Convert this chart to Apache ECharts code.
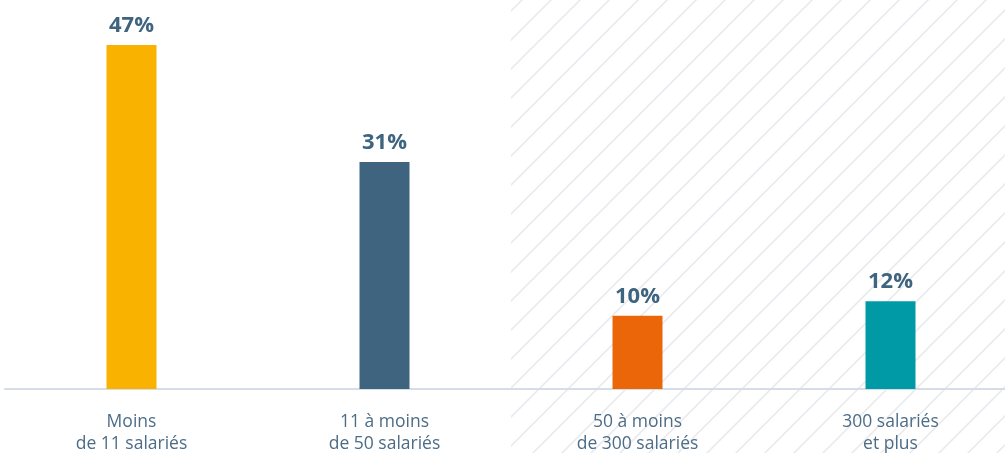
<!DOCTYPE html>
<html>
<head>
<meta charset="utf-8">
<script src="https://cdn.jsdelivr.net/npm/echarts@6/dist/echarts.min.js"></script>
<style>
  html, body { margin: 0; padding: 0; background: #fff; }
  #chart { width: 1005px; height: 453px; }
</style>
</head>
<body>
<div id="chart"></div>
<script>
const categories = ['Moins\nde 11 salariés', '11 à moins\nde 50 salariés', '50 à moins\nde 300 salariés', '300 salariés\net plus'];
const values = [47, 31, 10, 12];
const colors = ['#f9b200', '#3e6480', '#eb6608', '#009aa6'];
// hatched zone starts at this category
const hatchFrom = 2;

const makeHatch = () => {
    const s = 29;
    const c = document.createElement('canvas');
    c.width = s; c.height = s;
    const ctx = c.getContext('2d');
    ctx.strokeStyle = '#e9ebef';
    ctx.lineWidth = 1.6;
    ctx.beginPath();
    ctx.moveTo(-2, s + 2); ctx.lineTo(s + 2, -2);
    ctx.moveTo(-2, 2); ctx.lineTo(2, -2);
    ctx.moveTo(s - 2, s + 2); ctx.lineTo(s + 2, s - 2);
    ctx.stroke();
    return c;
};

const chart = echarts.init(document.getElementById('chart'));
const option = {
    animation: false,
    grid: { left: 5, width: 1012, top: 23, bottom: 64, outerBoundsMode: 'none', containLabel: false },
    xAxis: {
        type: 'category',
        data: categories,
        axisLine: { lineStyle: { color: '#d6dde6', width: 2 } },
        axisTick: { show: false },
        axisLabel: {
            color: '#4d6c86',
            fontFamily: 'Open Sans',
            fontSize: 17.5,
            lineHeight: 22,
            margin: 22
        }
    },
    yAxis: { type: 'value', min: 0, max: 50, show: false, splitLine: { show: false } },
    series: [{
        type: 'bar',
        barWidth: 50,
        data: values.map((v, i) => ({ value: v, itemStyle: { color: colors[i] } })),
        label: {
            show: true,
            position: 'top',
            distance: 8,
            formatter: '{c}%',
            color: '#3e6480',
            fontFamily: 'Open Sans',
            fontWeight: 'bold',
            fontSize: 22
        },
        z: 3
    }]
};
chart.setOption(option);

const x0 = (chart.convertToPixel({ xAxisIndex: 0 }, hatchFrom - 1) + chart.convertToPixel({ xAxisIndex: 0 }, hatchFrom)) / 2;
chart.setOption({
    graphic: [{
        type: 'rect',
        z: -10,
        silent: true,
        shape: { x: x0, y: 0, width: chart.getWidth() - x0, height: chart.getHeight() },
        style: { fill: { image: makeHatch(), repeat: 'repeat' } }
    }]
});
</script>
</body>
</html>
